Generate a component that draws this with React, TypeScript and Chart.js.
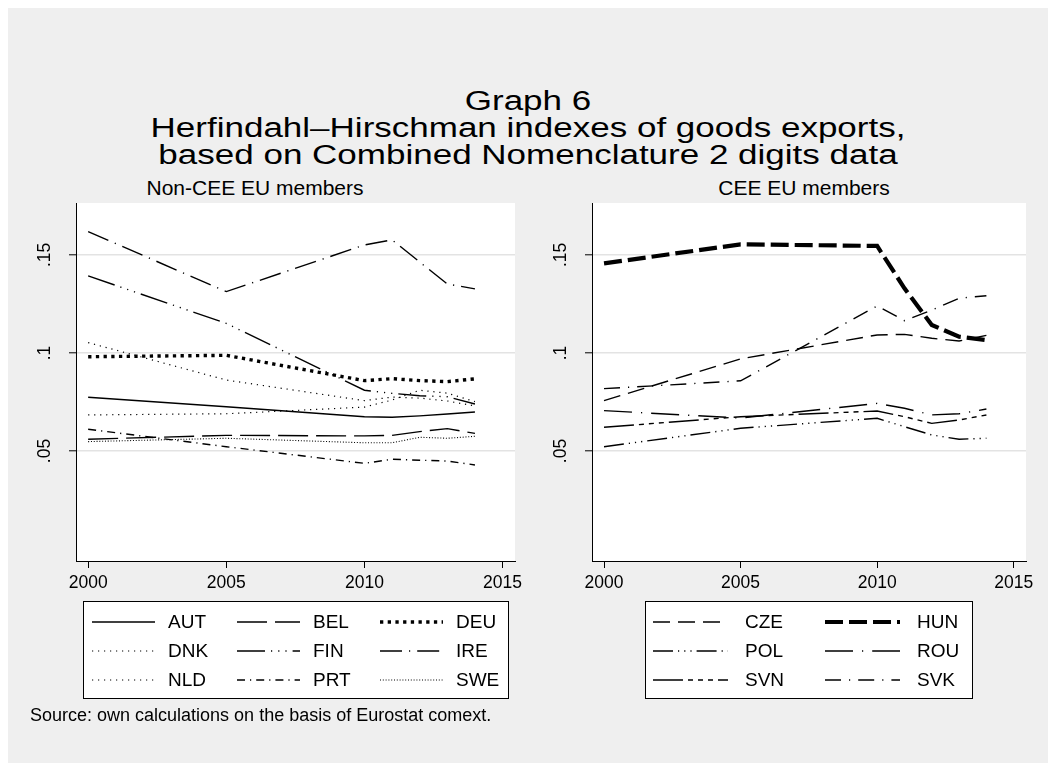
import React, { useEffect, useRef } from 'react';
import { Chart, registerables } from 'chart.js';

Chart.register(...registerables);

// ---------- data ----------
const years = [2000, 2005, 2010, 2011, 2012, 2013, 2014];

const nonCeeNames = ['AUT', 'BEL', 'DEU', 'DNK', 'FIN', 'IRE', 'NLD', 'PRT', 'SWE'];
const AUT = [0.0774, 0.0726, 0.0675, 0.0672, 0.0679, 0.0689, 0.0699];
const BEL = [0.056, 0.058, 0.0577, 0.058, 0.0599, 0.0614, 0.059];
const DEU = [0.0981, 0.0988, 0.0859, 0.0869, 0.0859, 0.0854, 0.0868];
const DNK = [0.0684, 0.069, 0.0724, 0.076, 0.081, 0.0795, 0.0752];
const FIN = [0.1393, 0.1151, 0.081, 0.0794, 0.0782, 0.0777, 0.074];
const IRE = [0.1619, 0.1313, 0.1551, 0.1577, 0.1464, 0.1352, 0.1327];
const NLD = [0.1053, 0.0862, 0.0757, 0.0775, 0.077, 0.0755, 0.073];
const PRT = [0.0611, 0.0522, 0.0437, 0.0458, 0.0453, 0.0449, 0.0429];
const SWE = [0.0548, 0.0565, 0.0542, 0.0542, 0.057, 0.0565, 0.0575];

const ceeNames = ['CZE', 'HUN', 'POL', 'ROU', 'SVN', 'SVK'];
const CZE = [0.0757, 0.097, 0.1092, 0.1095, 0.1075, 0.1061, 0.109];
const HUN = [0.1457, 0.1554, 0.1546, 0.133, 0.1143, 0.1083, 0.1066];
const POL = [0.0522, 0.0616, 0.0667, 0.0624, 0.0582, 0.056, 0.0565];
const ROU = [0.0706, 0.0668, 0.0743, 0.0718, 0.0684, 0.069, 0.0714];
const SVN = [0.0621, 0.0675, 0.0704, 0.0675, 0.0641, 0.0658, 0.0684];
const SVK = [0.0818, 0.0858, 0.124, 0.1165, 0.1219, 0.1279, 0.1292];

const xTickValues = [2000, 2005, 2010, 2015];
const xTickLabels = ['2000', '2005', '2010', '2015'];
const yTickValues = [0.05, 0.1, 0.15];
const yTickLabels = ['.05', '.1', '.15'];

const titleLines = [
  'Graph 6',
  'Herfindahl\u2013Hirschman indexes of goods exports,',
  'based on Combined Nomenclature 2 digits data',
];
const leftTitle = 'Non-CEE EU members';
const rightTitle = 'CEE EU members';
const sourceNote = 'Source: own calculations on the basis of Eurostat comext.';

// ---------- styles ----------
type Sty = { dash: number[]; width: number };
const nonCeeStyles: Sty[] = [
  { dash: [], width: 1.4 }, // AUT solid
  { dash: [30, 8], width: 1.4 }, // BEL long dash
  { dash: [3.3, 4.4], width: 3.4 }, // DEU thick dots
  { dash: [1.2, 4.8], width: 1.2 }, // DNK dots
  { dash: [28, 6, 1.2, 6, 1.2, 6, 1.2, 6], width: 1.4 }, // FIN
  { dash: [22, 7, 1.2, 7], width: 1.4 }, // IRE
  { dash: [1.2, 4.8], width: 1.2 }, // NLD
  { dash: [8, 5, 1.2, 5], width: 1.4 }, // PRT
  { dash: [1, 1.8], width: 1.1 }, // SWE dense dots
];
const ceeStyles: Sty[] = [
  { dash: [17, 8], width: 1.4 }, // CZE
  { dash: [18, 6], width: 4.2 }, // HUN
  { dash: [20, 5, 1.2, 5, 1.2, 5, 1.2, 5], width: 1.4 }, // POL
  { dash: [28, 9, 1.2, 9], width: 1.4 }, // ROU
  { dash: [30, 5, 5, 5, 5, 5, 5, 5], width: 1.4 }, // SVN
  { dash: [16, 8, 1.2, 8], width: 1.4 }, // SVK
];

const FONT = '"Liberation Sans", Arial, Helvetica, sans-serif';
const W = 1040;
const H = 755;
const TICK_SIZE = 17.5;
const LEGEND_SIZE = 19;

type PanelCfg = {
  names: string[];
  series: number[][];
  styles: Sty[];
  area: { left: number; right: number; top: number; bottom: number };
  legend: { box: [number, number, number, number]; cols: number[]; rows: number[]; lineLen: number; textGap: number };
};

function makeConfig(p: PanelCfg): any {
  const yAxisW = 60;
  const xAxisH = 40;
  const legendPlugin = {
    id: 'panelLegend',
    beforeDraw(chart: any) {
      const { ctx, chartArea } = chart;
      ctx.save();
      ctx.fillStyle = '#ffffff';
      ctx.fillRect(chartArea.left, chartArea.top, chartArea.right - chartArea.left, chartArea.bottom - chartArea.top);
      ctx.restore();
    },
    afterDraw(chart: any) {
      const ctx = chart.ctx;
      const [bx, by, bw, bh] = p.legend.box;
      ctx.save();
      ctx.fillStyle = '#ffffff';
      ctx.fillRect(bx, by, bw, bh);
      ctx.strokeStyle = '#000';
      ctx.lineWidth = 1;
      ctx.setLineDash([]);
      ctx.strokeRect(bx + 0.5, by + 0.5, bw, bh);
      const nc = p.legend.cols.length;
      chart.data.datasets.forEach((ds: any, i: number) => {
        const c = i % nc;
        const r = Math.floor(i / nc);
        const x0 = p.legend.cols[c];
        const y0 = p.legend.rows[r];
        ctx.beginPath();
        ctx.setLineDash(ds.borderDash || []);
        ctx.lineWidth = ds.borderWidth;
        ctx.strokeStyle = '#000';
        ctx.lineCap = 'butt';
        ctx.moveTo(x0, y0);
        ctx.lineTo(x0 + p.legend.lineLen, y0);
        ctx.stroke();
        ctx.setLineDash([]);
        ctx.fillStyle = '#000';
        ctx.font = `${LEGEND_SIZE}px ${FONT}`;
        ctx.textBaseline = 'middle';
        ctx.textAlign = 'left';
        ctx.fillText(ds.label, x0 + p.legend.lineLen + p.legend.textGap, y0 + 1);
      });
      ctx.restore();
    },
  };

  return {
    type: 'line',
    data: {
      datasets: p.names.map((n, i) => ({
        label: n,
        data: years.map((yr, j) => ({ x: yr, y: p.series[i][j] })),
        borderColor: '#000',
        backgroundColor: '#000',
        borderWidth: p.styles[i].width,
        borderDash: p.styles[i].dash,
        pointRadius: 0,
        tension: 0,
        fill: false,
      })),
    },
    options: {
      responsive: false,
      animation: false,
      devicePixelRatio: 1,
      events: [],
      layout: {
        padding: {
          left: p.area.left - yAxisW,
          right: W - p.area.right,
          top: p.area.top,
          bottom: H - p.area.bottom - xAxisH,
        },
      },
      plugins: {
        legend: { display: false },
        title: { display: false },
        tooltip: { enabled: false },
      },
      scales: {
        x: {
          type: 'linear',
          min: 1999.56,
          max: 2015.45,
          afterBuildTicks: (s: any) => {
            s.ticks = xTickValues.map((v) => ({ value: v }));
          },
          afterFit: (s: any) => {
            s.height = xAxisH;
          },
          ticks: {
            autoSkip: false,
            maxRotation: 0,
            minRotation: 0,
            padding: 5,
            color: '#000',
            font: { family: FONT, size: TICK_SIZE },
            callback: (_v: any, i: number) => xTickLabels[i],
          },
          grid: { drawOnChartArea: false, drawTicks: true, tickLength: 7, tickColor: '#000', tickWidth: 1, color: '#000' },
          border: { display: true, color: '#000', width: 1 },
        },
        y: {
          type: 'linear',
          min: -0.0061,
          max: 0.1765,
          afterBuildTicks: (s: any) => {
            s.ticks = yTickValues.map((v) => ({ value: v }));
          },
          afterFit: (s: any) => {
            s.width = yAxisW;
          },
          ticks: {
            autoSkip: false,
            minRotation: 90,
            maxRotation: 90,
            crossAlign: 'center',
            padding: 12,
            color: '#000',
            font: { family: FONT, size: TICK_SIZE },
            callback: (_v: any, i: number) => yTickLabels[i],
          },
          grid: { drawOnChartArea: true, color: '#e3e3e3', lineWidth: 1.6, drawTicks: true, tickLength: 7, tickColor: '#000', tickWidth: 1 },
          border: { display: true, color: '#000', width: 1 },
        },
      },
    },
    plugins: [legendPlugin],
  };
}

const leftPanel: PanelCfg = {
  names: nonCeeNames,
  series: [AUT, BEL, DEU, DNK, FIN, IRE, NLD, PRT, SWE],
  styles: nonCeeStyles,
  area: { left: 68, right: 507, top: 195, bottom: 553 },
  legend: { box: [75, 593, 425, 97], cols: [84, 229, 372], rows: [614, 643, 672], lineLen: 63, textGap: 13 },
};

const rightPanel: PanelCfg = {
  names: ceeNames,
  series: [CZE, HUN, POL, ROU, SVN, SVK],
  styles: ceeStyles,
  area: { left: 584, right: 1018, top: 195, bottom: 553 },
  legend: { box: [637, 593, 327, 97], cols: [645, 817], rows: [614, 643, 672], lineLen: 75, textGap: 17 },
};

function Panel({ cfg }: { cfg: PanelCfg }) {
  const ref = useRef<HTMLCanvasElement | null>(null);
  useEffect(() => {
    if (!ref.current) return;
    const chart = new Chart(ref.current, makeConfig(cfg));
    return () => chart.destroy();
  }, [cfg]);
  return (
    <canvas
      ref={ref}
      width={W}
      height={H}
      style={{ position: 'absolute', left: 0, top: 0, width: W, height: H }}
    />
  );
}

export default function App() {
  // vertical centres of the title lines (container coordinates)
  const titleCentres = [91, 118, 145];
  const titleSize = 35;
  const subSize = 21;
  return (
    <div style={{ position: 'relative', width: W, height: H, background: '#efefef', fontFamily: FONT, color: '#000', overflow: 'hidden' }}>
      {titleLines.map((t, i) => (
        <div
          key={i}
          style={{
            position: 'absolute',
            left: 0,
            width: W,
            top: titleCentres[i] - titleSize / 2,
            height: titleSize,
            textAlign: 'center',
            fontSize: titleSize,
            lineHeight: `${titleSize}px`,
            whiteSpace: 'nowrap',
            transform: 'scaleY(0.8)',
            transformOrigin: 'center center',
          }}
        >
          {t}
        </div>
      ))}
      <div style={{ position: 'absolute', left: 247 - 300, width: 600, top: 179 - subSize / 2, textAlign: 'center', fontSize: subSize, lineHeight: `${subSize}px`, whiteSpace: 'nowrap' }}>
        {leftTitle}
      </div>
      <div style={{ position: 'absolute', left: 796 - 300, width: 600, top: 179 - subSize / 2, textAlign: 'center', fontSize: subSize, lineHeight: `${subSize}px`, whiteSpace: 'nowrap' }}>
        {rightTitle}
      </div>
      <Panel cfg={leftPanel} />
      <Panel cfg={rightPanel} />
      <div style={{ position: 'absolute', left: 22, top: 707 - 9, fontSize: 18, lineHeight: '18px', whiteSpace: 'nowrap' }}>
        {sourceNote}
      </div>
    </div>
  );
}
